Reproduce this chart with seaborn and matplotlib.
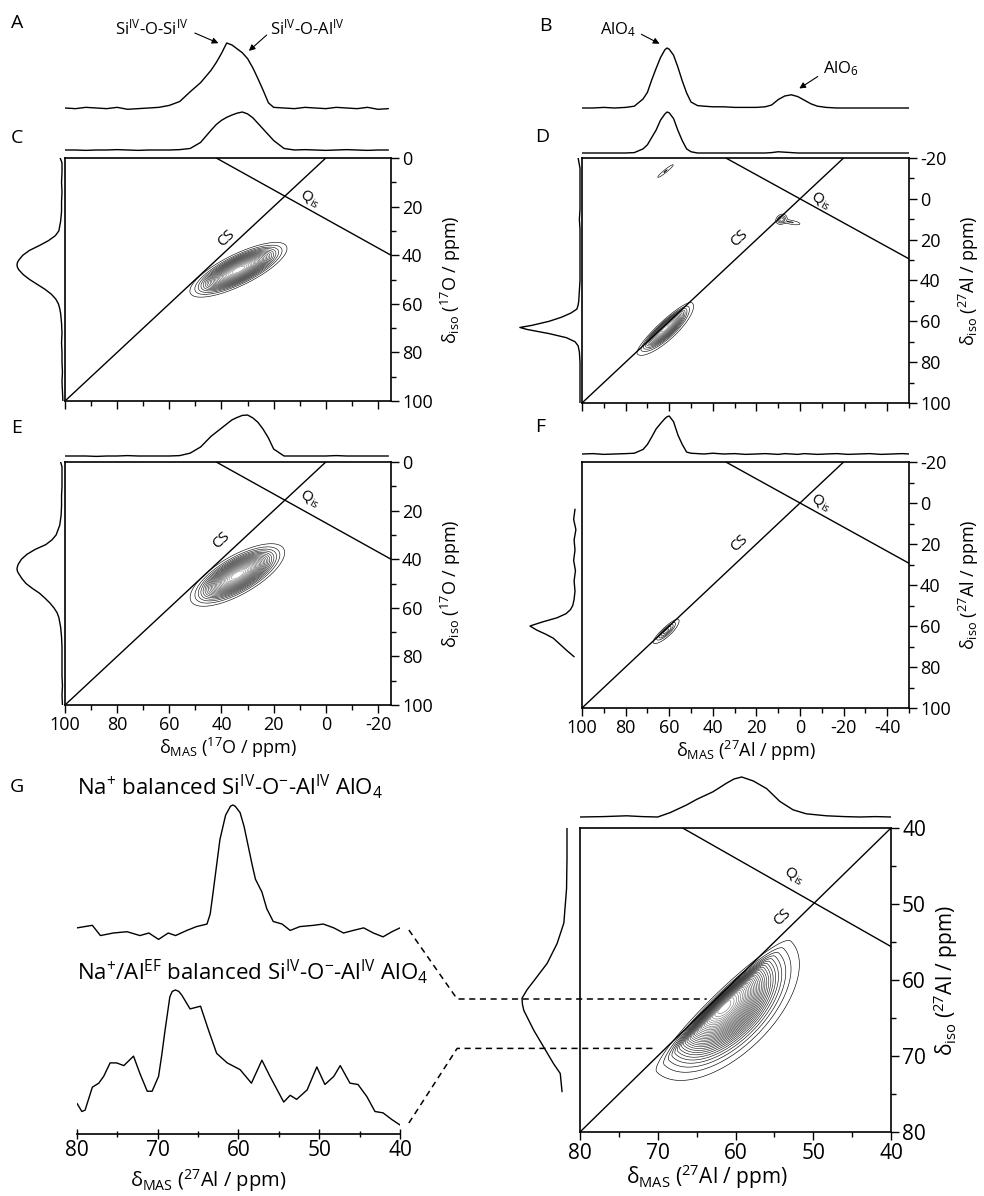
import numpy as np
import matplotlib
matplotlib.use("Agg")
import matplotlib.pyplot as plt
from matplotlib.ticker import MultipleLocator
import seaborn as sns

# ---------------- 17O spectra (panels A, C, E) ----------------
o17_mas_ppm = [100, 96, 92, 88, 84, 80, 76, 72, 68, 64,
               60, 56, 52, 48, 44, 42, 40, 38, 36, 34,
               32, 30, 28, 26, 24, 22, 20, 16, 12, 8,
               4, 0, -4, -8, -12, -16, -20, -24]
a_mas = [0.00, -0.01, 0.01, 0.00, -0.01, 0.01, -0.02, -0.01, 0.00, 0.01,
         0.04, 0.10, 0.25, 0.39, 0.58, 0.70, 0.84, 1.00, 0.97, 0.91,
         0.85, 0.76, 0.62, 0.45, 0.27, 0.08, 0.01, 0.00, -0.01, 0.01,
         0.00, -0.01, 0.01, 0.00, -0.01, 0.01, -0.02, -0.01]
c_mas = [0.00, 0.00, -0.01, 0.00, 0.00, 0.01, 0.00, -0.01, 0.00, 0.00,
         0.00, 0.01, 0.04, 0.20, 0.52, 0.67, 0.78, 0.86, 0.92, 0.97,
         1.00, 0.95, 0.85, 0.70, 0.55, 0.40, 0.25, 0.04, 0.00, 0.01,
         0.00, -0.01, 0.00, 0.01, 0.00, -0.01, 0.00, 0.00]
e_mas = [0.00, 0.00, 0.00, -0.01, 0.00, 0.00, 0.01, 0.00, 0.00, 0.00,
         0.00, 0.01, 0.07, 0.22, 0.48, 0.58, 0.68, 0.78, 0.88, 0.94,
         0.99, 1.00, 0.93, 0.82, 0.65, 0.44, 0.17, 0.00, 0.00, 0.00,
         0.00, 0.00, 0.01, 0.00, 0.00, 0.00, 0.00, 0.00]

o17_iso_ppm = [0, 2, 6, 10, 14, 18, 22, 26, 30, 32,
               34, 36, 38, 40, 42, 43, 44, 45, 46, 48,
               50, 52, 54, 56, 58, 60, 62, 64, 68, 72,
               76, 80, 84, 88, 92, 96, 100]
c_iso = [0.04, 0.00, 0.00, 0.01, 0.00, 0.01, 0.01, 0.03, 0.07, 0.15,
         0.30, 0.50, 0.72, 0.87, 0.96, 0.99, 1.00, 0.99, 0.96, 0.86,
         0.72, 0.55, 0.38, 0.24, 0.14, 0.08, 0.05, 0.03, 0.01, 0.00,
         0.01, 0.00, 0.00, -0.01, 0.00, -0.01, -0.02]
e_iso = [0.03, 0.00, 0.00, 0.00, 0.01, 0.01, 0.02, 0.05, 0.13, 0.22,
         0.36, 0.60, 0.78, 0.90, 0.97, 0.99, 1.00, 0.99, 0.96, 0.89,
         0.80, 0.66, 0.50, 0.38, 0.27, 0.18, 0.11, 0.07, 0.03, 0.01,
         0.00, 0.00, 0.00, 0.00, -0.01, 0.00, -0.01]

# ---------------- 27Al spectra (panels B, D, F) ----------------
al_mas_ppm = [100, 95, 90, 85, 80, 76, 72, 70, 68, 66,
              64, 62, 61, 60, 58, 56, 54, 52, 50, 47,
              44, 40, 35, 30, 25, 20, 16, 13, 10, 7,
              4, 1, -2, -5, -8, -12, -17, -22, -27, -32,
              -37, -42, -47, -50]
b_mas = [0.00, 0.00, 0.01, 0.00, 0.01, 0.03, 0.15, 0.26, 0.47, 0.66,
         0.84, 0.97, 1.00, 0.98, 0.88, 0.68, 0.45, 0.25, 0.10, 0.04,
         0.03, 0.02, 0.02, 0.01, 0.01, 0.01, 0.02, 0.05, 0.14, 0.20,
         0.22, 0.19, 0.13, 0.07, 0.03, 0.01, 0.00, 0.00, 0.00, 0.00,
         0.00, 0.00, 0.00, 0.00]
d_mas = [0.00, 0.00, 0.00, 0.00, 0.00, 0.01, 0.10, 0.20, 0.38, 0.56,
         0.80, 0.95, 1.00, 0.98, 0.84, 0.55, 0.30, 0.10, 0.03, 0.00,
         0.00, 0.00, 0.00, 0.00, 0.00, 0.00, 0.00, 0.01, 0.03, 0.02,
         0.01, 0.00, 0.00, 0.00, 0.00, 0.00, 0.00, 0.00, 0.00, 0.00,
         0.00, 0.00, 0.00, 0.00]
f_mas = [0.00, 0.01, -0.01, 0.00, 0.01, 0.02, 0.12, 0.25, 0.45, 0.66,
         0.80, 0.93, 0.98, 1.00, 0.85, 0.50, 0.25, 0.05, 0.02, 0.01,
         0.00, 0.02, 0.00, 0.01, -0.01, 0.00, 0.01, 0.00, -0.01, 0.01,
         0.00, -0.01, 0.01, 0.00, -0.01, 0.00, 0.01, -0.01, 0.00, 0.01,
         -0.01, 0.00, 0.01, 0.00]

al_iso_ppm = [-20, -15, -10, -5, 0, 5, 10, 15, 20, 25,
              30, 35, 40, 45, 50, 52, 54, 56, 58, 60,
              62, 63, 64, 66, 68, 70, 72, 75, 80, 85,
              90, 95, 100]
d_iso = [0.03, 0.00, 0.00, 0.00, 0.00, 0.00, 0.01, 0.00, 0.00, 0.00,
         0.00, 0.00, 0.00, 0.01, 0.02, 0.03, 0.05, 0.15, 0.30, 0.50,
         0.78, 0.97, 0.85, 0.50, 0.22, 0.08, 0.03, 0.01, 0.00, 0.00,
         0.00, 0.00, 0.00]
f_iso_ppm = [3, 8, 13, 18, 23, 28, 33, 38, 43, 47,
             50, 52, 54, 56, 58, 60, 62, 64, 66, 68,
             70, 72, 75]
f_iso = [0.00, 0.03, -0.02, 0.02, 0.00, 0.03, -0.01, 0.02, 0.00, 0.02,
         0.05, 0.10, 0.20, 0.40, 0.72, 1.00, 0.85, 0.65, 0.48, 0.38,
         0.28, 0.18, 0.02]

# ---------------- panel G ----------------
g_mas_ppm = [80, 77, 74, 72, 70, 68.4, 66.3, 65, 62.9, 61.2,
             60.2, 59.2, 57.7, 56, 54.3, 52.6, 50.9, 48.3, 46, 44,
             42, 40]
g_mas = [0.00, 0.01, 0.03, 0.01, 0.00, 0.11, 0.30, 0.44, 0.63, 0.84,
         0.95, 1.00, 0.90, 0.71, 0.39, 0.18, 0.08, 0.03, 0.01, 0.00,
         0.01, 0.00]
g_iso_ppm = [40, 44, 48, 52.5, 55.2, 57.8, 59.6, 61.3, 62.4, 63.2,
             64.0, 66.6, 68.8, 71.0, 72.3, 74.7]
g_iso = [0.00, 0.00, 0.01, 0.07, 0.22, 0.44, 0.67, 0.89, 1.00, 0.99,
         0.96, 0.74, 0.52, 0.30, 0.15, 0.11]

# slices taken at delta_iso = 62.5 (Na+) and 69 (Na+/Al EF)
slice_iso = [62.5, 69.0]
na_ppm = [80.0, 78.1, 77.1, 75.5, 73.8, 72.2, 71.1, 69.9, 68.7, 67.8,
          66.4, 65.2, 63.9, 63.5, 63.1, 62.3, 61.6, 61.0, 60.7, 60.4,
          59.8, 59.3, 58.8, 58.3, 57.9, 57.1, 56.5, 55.7, 54.6, 53.6,
          52.4, 50.7, 49.5, 48.2, 47.0, 45.8, 44.5, 43.3, 42.1, 41.0,
          40.0]
na_int = [0.04, 0.06, -0.02, 0.00, 0.01, -0.02, 0.00, -0.05, 0.00, -0.02,
          0.02, 0.05, 0.07, 0.15, 0.34, 0.73, 0.92, 0.99, 1.00, 0.99,
          0.94, 0.83, 0.68, 0.53, 0.42, 0.32, 0.19, 0.09, 0.07, 0.02,
          0.05, 0.06, 0.07, 0.04, 0.00, 0.02, 0.04, 0.00, -0.03, 0.01,
          0.04]
ef_ppm = [80.0, 79.4, 79.0, 78.1, 77.3, 76.7, 75.9, 75.1, 74.2, 73.0,
          72.2, 71.3, 70.7, 69.9, 69.5, 69.1, 68.5, 68.2, 67.8, 67.4,
          67.0, 66.0, 64.7, 63.7, 62.7, 61.4, 59.8, 58.4, 57.1, 56.1,
          54.4, 53.6, 52.8, 51.5, 50.3, 49.3, 48.2, 47.4, 46.2, 45.2,
          44.1, 43.1, 42.1, 41.0, 40.0]
ef_int = [0.16, 0.10, 0.11, 0.28, 0.31, 0.36, 0.46, 0.46, 0.44, 0.51,
          0.38, 0.25, 0.25, 0.36, 0.52, 0.70, 0.95, 0.99, 1.00, 0.99,
          0.96, 0.86, 0.88, 0.70, 0.53, 0.46, 0.41, 0.31, 0.48, 0.36,
          0.17, 0.22, 0.19, 0.26, 0.43, 0.30, 0.36, 0.44, 0.31, 0.30,
          0.21, 0.10, 0.09, 0.04, 0.00]

# 2D peaks: (d_mas, d_iso, sigma along, sigma upper-left, sigma lower-right, angle, amplitude)
c_peaks = [(33.5, 46.0, 8.5, 2.6, 2.6, 28, 1.0)]
e_peaks = [(33.9, 46.5, 8.5, 3.2, 3.2, 32, 1.0)]
d_peaks = [(62.0, 63.5, 7.0, 1.3, 2.2, 45, 1.0),
           (8.5, 10.0, 1.5, 1.2, 1.2, 45, 0.22),
           (4.0, 11.5, 3.0, 0.7, 0.7, 169, 0.10),
           (61.7, -13.6, 3.5, 0.5, 0.5, 41, 0.10)]
f_peaks = [(61.5, 62.5, 3.8, 0.8, 1.2, 45, 1.0)]
g_peaks = [(61.5, 63.5, 4.6, 0.7, 2.4, 45, 1.0)]

# CS and Q_is reference lines (d_mas, d_iso end points)
cs_o17 = ([100, 0], [100, 0])
qis_o17 = ([42, -25], [0, 40])
cs_al = ([100, -20], [100, -20])
qis_al = ([34, -50], [-20, 29.4])
cs_g = ([80, 40], [80, 40])
qis_g = ([66.8, 40], [40, 55.6])

sns.set_style("ticks", rc={"axes.edgecolor": "black", "xtick.color": "black",
                           "ytick.color": "black", "text.color": "black",
                           "axes.labelcolor": "black"})
plt.rcParams["font.family"] = ["Open Sans", "DejaVu Sans"]
plt.rcParams["mathtext.fontset"] = "custom"
plt.rcParams["mathtext.rm"] = "Open Sans"
plt.rcParams["mathtext.it"] = "Open Sans:italic"
plt.rcParams["mathtext.bf"] = "Open Sans:bold"
plt.rcParams["axes.unicode_minus"] = False

W, H = 984, 1196
fig = plt.figure(figsize=(W / 100, H / 100), dpi=100)


def px_rect(l, t, r, b):
    return [l / W, 1 - b / H, (r - l) / W, (b - t) / H]


def top_projection(ppm, inten, l, r, base, peak, xlim, pad=5):
    ax = fig.add_axes(px_rect(l, peak - pad, r, base + pad))
    sns.lineplot(x=ppm, y=inten, ax=ax, color="black", linewidth=1.0,
                 estimator=None, sort=False)
    h = base - peak
    ax.set_xlim(xlim)
    ax.set_ylim(-pad / h, 1 + pad / h)
    ax.axis("off")
    return ax


def side_projection(ppm, inten, t, b, base, peak, ylim, pad=5):
    ax = fig.add_axes(px_rect(peak - pad, t, base + pad, b))
    sns.lineplot(x=inten, y=ppm, ax=ax, orient="y", color="black", linewidth=1.0,
                 estimator=None, sort=False)
    w = base - peak
    ax.set_xlim(1 + pad / w, -pad / w)
    ax.set_ylim(ylim)
    ax.axis("off")
    return ax


def panel_2d(box, xlim, ylim, step, peaks, levels, shades, cs, qis, cs_xy, q_xy,
             ylabel, xlabel=None, fs=13):
    ax = fig.add_axes(px_rect(*box))
    X, Y = np.meshgrid(np.linspace(min(xlim), max(xlim), 400),
                       np.linspace(min(ylim), max(ylim), 400))
    Z = np.zeros_like(X)
    for m0, i0, s_u, s_l, s_r, ang, amp in peaks:
        t = np.deg2rad(ang)
        dm, di = X - m0, Y - i0
        u = dm * np.cos(t) + di * np.sin(t)
        v = di * np.cos(t) - dm * np.sin(t)
        s_v = np.where(v < 0, s_l, s_r)
        Z += amp * np.exp(-0.5 * (u / s_u) ** 2 - 0.5 * (v / s_v) ** 2)
    greys = [str(g) for g in np.linspace(shades[0], shades[1], len(levels))]
    ax.contour(X, Y, Z, levels=levels, colors=greys, linewidths=0.45)
    ax.plot(*cs, color="black", lw=1.0)
    ax.plot(*qis, color="black", lw=1.0)
    ax.text(*cs_xy, "CS", rotation=43, ha="center", va="center", fontsize=11)
    ax.text(*q_xy, r"Q$_{\mathrm{is}}$", rotation=-30, ha="center", va="center", fontsize=11)
    ax.set_xlim(xlim)
    ax.set_ylim(ylim)
    ax.xaxis.set_major_locator(MultipleLocator(2 * step))
    ax.xaxis.set_minor_locator(MultipleLocator(step))
    ax.yaxis.set_major_locator(MultipleLocator(2 * step))
    ax.yaxis.set_minor_locator(MultipleLocator(step))
    ax.yaxis.tick_right()
    ax.yaxis.set_label_position("right")
    ax.tick_params(which="both", direction="out", width=1.0, labelsize=fs, pad=2)
    ax.tick_params(which="major", length=6)
    ax.tick_params(which="minor", length=3.5)
    if xlabel is None:
        ax.tick_params(axis="x", labelbottom=False)
    else:
        ax.set_xlabel(xlabel, fontsize=fs, labelpad=1)
    ax.set_ylabel(ylabel, fontsize=fs, labelpad=4)
    for s in ax.spines.values():
        s.set_linewidth(1.2)
    return ax


lab_mas_o = r"δ$_{\mathrm{MAS}}$ ($^{17}$O / ppm)"
lab_iso_o = r"δ$_{\mathrm{iso}}$ ($^{17}$O / ppm)"
lab_mas_al = r"δ$_{\mathrm{MAS}}$ ($^{27}$Al / ppm)"
lab_iso_al = r"δ$_{\mathrm{iso}}$ ($^{27}$Al / ppm)"

o_lvls = np.linspace(0.05, 0.95, 24)
arrow = dict(arrowstyle="-|>", lw=0.8, color="black", mutation_scale=9)

# ---- A / C / E (17O) ----
ax_a = top_projection(o17_mas_ppm, a_mas, 65, 391, 108, 43, (100, -25))
ax_a.text(66.9, 1.23, r"Si$^{\mathrm{IV}}$-O-Si$^{\mathrm{IV}}$", ha="center", va="center", fontsize=12)
ax_a.text(7.0, 1.23, r"Si$^{\mathrm{IV}}$-O-Al$^{\mathrm{IV}}$", ha="center", va="center", fontsize=12)
ax_a.annotate("", xy=(40.2, 0.98), xytext=(51.2, 1.17), arrowprops=arrow, annotation_clip=False)
ax_a.annotate("", xy=(30.3, 0.85), xytext=(21.9, 1.15), arrowprops=arrow, annotation_clip=False)

top_projection(o17_mas_ppm, c_mas, 65, 391, 150, 112, (100, -25))
side_projection(o17_iso_ppm, c_iso, 158, 401, 62, 17, (100, 0))
panel_2d((65, 158, 391, 401), (100, -25), (100, 0), 10, c_peaks, o_lvls, (0.05, 0.6),
         cs_o17, qis_o17, (38.3, 33), (6.0, 16.5), lab_iso_o)

top_projection(o17_mas_ppm, e_mas, 65, 391, 456, 415, (100, -25))
side_projection(o17_iso_ppm, e_iso, 462, 705, 62, 17, (100, 0))
panel_2d((65, 462, 391, 705), (100, -25), (100, 0), 10, e_peaks, o_lvls, (0.05, 0.6),
         cs_o17, qis_o17, (40.2, 32.1), (6.0, 15.0), lab_iso_o, xlabel=lab_mas_o)

# ---- B / D / F (27Al) ----
ax_b = top_projection(al_mas_ppm, b_mas, 582, 909, 108, 48, (100, -50))
ax_b.text(83.5, 1.3, r"AlO$_4$", ha="center", va="center", fontsize=12)
ax_b.text(-18.8, 0.65, r"AlO$_6$", ha="center", va="center", fontsize=12)
ax_b.annotate("", xy=(63.3, 1.05), xytext=(73.9, 1.25), arrowprops=arrow, annotation_clip=False)
ax_b.annotate("", xy=(1.4, 0.3), xytext=(-9.2, 0.55), arrowprops=arrow, annotation_clip=False)

top_projection(al_mas_ppm, d_mas, 582, 909, 153, 112, (100, -50))
side_projection(al_iso_ppm, d_iso, 158, 403, 580, 518, (100, -20))
panel_2d((582, 158, 909, 403), (100, -50), (100, -20), 10, d_peaks,
         np.linspace(0.04, 0.95, 18), (0.05, 0.55),
         cs_al, qis_al, (28, 19.2), (-9.5, 0.8), lab_iso_al)

top_projection(al_mas_ppm, f_mas, 582, 909, 454, 416, (100, -50))
side_projection(f_iso_ppm, f_iso, 462, 708, 575, 530, (100, -20))
panel_2d((582, 462, 909, 708), (100, -50), (100, -20), 10, f_peaks,
         np.linspace(0.1, 0.9, 5), (0.0, 0.1),
         cs_al, qis_al, (28, 19.5), (-9.5, -0.2), lab_iso_al, xlabel=lab_mas_al)

# ---- G: slices (left) ----
ax_gl = fig.add_axes(px_rect(77, 790, 400, 1134))
sns.lineplot(x=na_ppm, y=[201 + 128 * v for v in na_int], ax=ax_gl, color="black",
             linewidth=1.0, estimator=None, sort=False)
sns.lineplot(x=ef_ppm, y=[9 + 135 * v for v in ef_int], ax=ax_gl, color="black",
             linewidth=1.0, estimator=None, sort=False)
ax_gl.set_xlim(80, 40)
ax_gl.set_ylim(0, 344)
ax_gl.set_yticks([])
ax_gl.spines[["top", "left", "right"]].set_visible(False)
ax_gl.spines["bottom"].set_linewidth(1.2)
ax_gl.xaxis.set_major_locator(MultipleLocator(10))
ax_gl.xaxis.set_minor_locator(MultipleLocator(5))
ax_gl.tick_params(axis="x", which="both", direction="inout", width=1.0, labelsize=15, pad=1)
ax_gl.tick_params(axis="x", which="major", length=7)
ax_gl.tick_params(axis="x", which="minor", length=4)
ax_gl.set_xlabel(lab_mas_al, fontsize=14.5, labelpad=0)
ax_gl.xaxis.set_label_coords(0.405, -0.095)
ax_gl.text(80, 347, r"Na$^{+}$ balanced Si$^{\mathrm{IV}}$-O$^{-}$-Al$^{\mathrm{IV}}$ AlO$_4$",
           ha="left", va="center", fontsize=16)
ax_gl.text(80, 162, r"Na$^{+}$/Al$^{\mathrm{EF}}$ balanced Si$^{\mathrm{IV}}$-O$^{-}$-Al$^{\mathrm{IV}}$ AlO$_4$",
           ha="left", va="center", fontsize=16)

# ---- G: 2D (right) ----
top_projection(g_mas_ppm, g_mas, 580, 891, 817, 777, (80, 40))
side_projection(g_iso_ppm, g_iso, 828, 1132, 567, 522, (80, 40))
ax_g = panel_2d((580, 828, 891, 1132), (80, 40), (80, 40), 5, g_peaks,
                np.linspace(0.03, 0.97, 30), (0.0, 0.5),
                cs_g, qis_g, (54, 51.8), (52.5, 46.2), lab_iso_al, xlabel=lab_mas_al, fs=15)
ax_g.xaxis.set_label_coords(0.41, -0.1)

# dashed guides from the slice ends to their delta_iso in the 2D map
to_g = ax_g.transData.inverted()
for y_start, iso, x_end in zip([204, 11], slice_iso, [63.7, 70.6]):
    x0, y0 = to_g.transform(ax_gl.transData.transform((38.9, y_start)))
    ax_g.plot([x0, 95.8, x_end], [y0, iso, iso], linestyle=(0, (4, 3)), lw=1.1,
              color="black", clip_on=False)

for letter, x, y in [("A", 17, 23), ("B", 545, 26), ("C", 17, 138), ("D", 542, 137),
                     ("E", 17, 428), ("F", 540, 427), ("G", 17, 787)]:
    fig.text(x / W, 1 - y / H, letter, ha="center", va="center", fontsize=14)

fig.savefig("out.png", dpi=100)
